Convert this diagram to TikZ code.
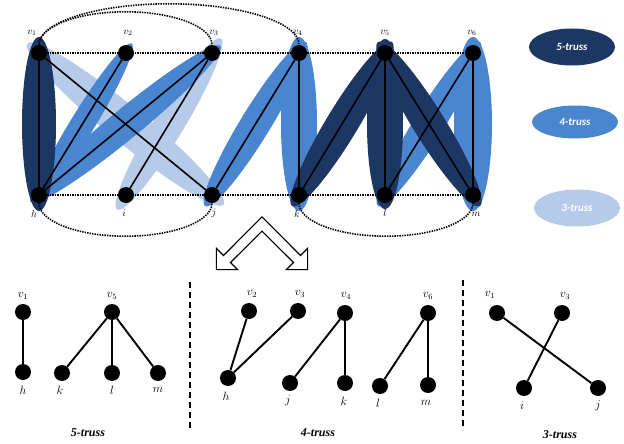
\documentclass[tikz,border=0pt]{standalone}
\usepackage{fontspec}
\setmainfont{Liberation Serif}
\newfontfamily\legendfont{Carlito}
\usetikzlibrary{calc,shapes.geometric}
\definecolor{dk}{HTML}{1D3764}
\definecolor{md}{HTML}{4A86D0}
\definecolor{lt}{HTML}{B6CBEA}
\pgfdeclarelayer{bg}
\pgfsetlayers{bg,main}
\newcommand{\trussband}[5]{%
  \path let \p1=($(#3)-(#2)$), \n1={atan2(\y1,\x1)}, \n2={veclen(\x1,\y1)} in
    node[ellipse, fill=#1, inner sep=0pt, minimum width=\n2+#4, minimum height=#5, rotate=\n1] at ($(#2)!0.5!(#3)$) {};}
\begin{document}
\begin{tikzpicture}[x=1pt,y=-1pt,
  vtx/.style={circle,fill=black,minimum size=16pt,inner sep=0pt},
  bvtx/.style={circle,fill=black,minimum size=16pt,inner sep=0pt},
  lbl/.style={font=\fontsize{10}{10}\selectfont, inner sep=0pt},
  blbl/.style={font=\fontsize{12}{12}\selectfont, inner sep=0pt},
  ln/.style={line width=1.6pt},
  bln/.style={line width=1.9pt},
  dotl/.style={dash pattern=on 1.4pt off 1.1pt, line width=1.6pt},
  captxt/.style={font=\bfseries\itshape\fontsize{12}{12}\selectfont, inner sep=0pt},
  legbox/.style={ellipse, minimum width=86pt, minimum height=37pt, inner sep=0pt, font=\legendfont\bfseries\itshape\fontsize{11}{11}\selectfont, text=white},
  divider/.style={line width=1.8pt, dash pattern=on 6pt off 4pt}
]
\useasboundingbox (0,0) rectangle (624,444);

% ---------- top graph nodes ----------
\node[vtx] (v1) at (39,53) {};
\node[vtx] (v2) at (126,53) {};
\node[vtx] (v3) at (212,53) {};
\node[vtx] (v4) at (299,53) {};
\node[vtx] (v5) at (385,53) {};
\node[vtx] (v6) at (473,53) {};
\node[vtx] (h) at (39,195) {};
\node[vtx] (i) at (126,195) {};
\node[vtx] (j) at (212,195) {};
\node[vtx] (k) at (299,195) {};
\node[vtx] (l) at (385,195) {};
\node[vtx] (m) at (473,195) {};

% ---------- truss bands ----------
\begin{pgfonlayer}{bg}
  \trussband{lt}{v1}{j}{30pt}{36pt}
  \trussband{lt}{v3}{i}{34pt}{30pt}
  \trussband{md}{v2}{h}{22pt}{24pt}
  \trussband{md}{v3}{h}{22pt}{30pt}
  \trussband{md}{v4}{j}{26pt}{30pt}
  \trussband{md}{v4}{k}{32pt}{36pt}
  \trussband{md}{v6}{l}{26pt}{30pt}
  \trussband{md}{v6}{m}{32pt}{38pt}
  \trussband{dk}{v1}{h}{32pt}{34pt}
  \trussband{dk}{v5}{k}{26pt}{32pt}
  \trussband{dk}{v5}{l}{28pt}{36pt}
  \trussband{dk}{v5}{m}{26pt}{32pt}
\end{pgfonlayer}

% ---------- dotted lines ----------
\draw[dotl] (v1) -- (v6);
\draw[dotl] (h) -- (m);
\draw[dotl] (v1.north) arc[start angle=180, end angle=0, x radius=130pt, y radius=41pt];
\draw[dotl] (v1.north) arc[start angle=180, end angle=0, x radius=86.5pt, y radius=33pt];
\draw[dotl] (h.south) arc[start angle=180, end angle=360, x radius=86.5pt, y radius=33pt];
\draw[dotl] (k.south) arc[start angle=180, end angle=360, x radius=87pt, y radius=33pt];

% ---------- edges ----------
\draw[ln] (v1) -- (h);
\draw[ln] (v1) -- (j);
\draw[ln] (v2) -- (h);
\draw[ln] (v3) -- (h);
\draw[ln] (v3) -- (i);
\draw[ln] (v4) -- (j);
\draw[ln] (v4) -- (k);
\draw[ln] (v5) -- (k);
\draw[ln] (v5) -- (l);
\draw[ln] (v5) -- (m);
\draw[ln] (v6) -- (l);
\draw[ln] (v6) -- (m);

% ---------- top labels ----------
\node[lbl] (tv1) at (32,33) {$v_1$};
\node[lbl] (tv2) at (128,33) {$v_2$};
\node[lbl] (tv3) at (214,33) {$v_3$};
\node[lbl] (tv4) at (298,33) {$v_4$};
\node[lbl] (tv5) at (385,33) {$v_5$};
\node[lbl] (tv6) at (472,33) {$v_6$};
\node[lbl] (th) at (34,214) {$h$};
\node[lbl] (ti) at (124,213) {$i$};
\node[lbl] (tj) at (214,213) {$j$};
\node[lbl] (tk) at (297,214) {$k$};
\node[lbl] (tl) at (385,213) {$l$};
\node[lbl] (tm) at (476,214) {$m$};

% ---------- legend ----------
\node[legbox, fill=dk] (L5) at (572,47) {5-truss};
\node[legbox, fill=md, minimum height=33pt] (L4) at (575,122) {4-truss};
\node[legbox, fill=lt] (L3) at (577,208) {3-truss};

% ---------- split arrow ----------
\draw[line width=1.1pt, fill=white, line join=miter]
  (262,216.9) -- (300.5,255.5) -- (307.6,248.4) -- (307.6,269.6) -- (286.4,269.6)
  -- (293.5,262.5) -- (262,231.1) -- (230.5,262.5) -- (237.6,269.6) -- (216.4,269.6)
  -- (216.4,248.4) -- (223.5,255.5) -- cycle;

% ---------- dividers ----------
\coordinate (d1a) at (190,282);
\coordinate (d1b) at (190,428);
\coordinate (d2a) at (463,280);
\coordinate (d2b) at (463,430);
\draw[divider] (d1a) -- (d1b);
\draw[divider] (d2a) -- (d2b);

% ---------- 5-truss ----------
\node[bvtx] (a1) at (23,312) {};
\node[bvtx] (a2) at (23,372) {};
\node[bvtx] (a3) at (112,312) {};
\node[bvtx] (a4) at (62,373) {};
\node[bvtx] (a5) at (112,373) {};
\node[bvtx] (a6) at (158,373) {};
\draw[bln] (a1) -- (a2);
\draw[bln] (a3) -- (a4);
\draw[bln] (a3) -- (a5);
\draw[bln] (a3) -- (a6);
\node[blbl] (la1) at (23,296) {$v_1$};
\node[blbl] (la2) at (23,390) {$h$};
\node[blbl] (la3) at (112,296) {$v_5$};
\node[blbl] (la4) at (60,390) {$k$};
\node[blbl] (la5) at (112,390) {$l$};
\node[blbl] (la6) at (158,390) {$m$};
\node[captxt] (c5) at (88,433) {5-truss};

% ---------- 4-truss ----------
\node[bvtx] (b1) at (249,311) {};
\node[bvtx] (b2) at (298,311) {};
\node[bvtx] (b3) at (228,378) {};
\node[bvtx] (b4) at (290,383) {};
\node[bvtx] (b5) at (345,313) {};
\node[bvtx] (b6) at (345,383) {};
\node[bvtx] (b7) at (380,386) {};
\node[bvtx] (b8) at (428,313) {};
\node[bvtx] (b9) at (428,385) {};
\draw[bln] (b1) -- (b3);
\draw[bln] (b2) -- (b3);
\draw[bln] (b5) -- (b4);
\draw[bln] (b5) -- (b6);
\draw[bln] (b8) -- (b7);
\draw[bln] (b8) -- (b9);
\node[blbl] (lb1) at (252,294) {$v_2$};
\node[blbl] (lb2) at (300,294) {$v_3$};
\node[blbl] (lb3) at (226,396) {$h$};
\node[blbl] (lb4) at (288,401) {$j$};
\node[blbl] (lb5) at (346,296) {$v_4$};
\node[blbl] (lb6) at (344,401) {$k$};
\node[blbl] (lb7) at (378,403) {$l$};
\node[blbl] (lb8) at (428,296) {$v_6$};
\node[blbl] (lb9) at (426,403) {$m$};
\node[captxt] (c4) at (318,433) {4-truss};

% ---------- 3-truss ----------
\node[bvtx] (e1) at (497,313) {};
\node[bvtx] (e2) at (562,313) {};
\node[bvtx] (e3) at (524,388) {};
\node[bvtx] (e4) at (598,388) {};
\draw[bln] (e1) -- (e4);
\draw[bln] (e2) -- (e3);
\node[blbl] (le1) at (490,295) {$v_1$};
\node[blbl] (le2) at (565,296) {$v_3$};
\node[blbl] (le3) at (522,406) {$i$};
\node[blbl] (le4) at (598,406) {$j$};
\node[captxt] (c3) at (560,435) {3-truss};
\end{tikzpicture}
\end{document}
